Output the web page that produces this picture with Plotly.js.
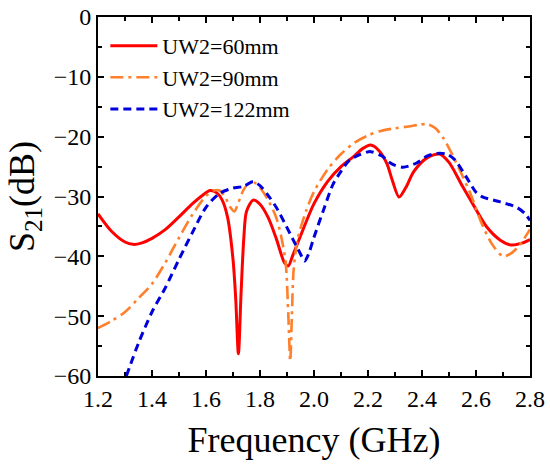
<!DOCTYPE html>
<html>
<head>
<meta charset="utf-8">
<script src="https://cdn.plot.ly/plotly-3.0.1.min.js"></script>
<style>html,body{margin:0;padding:0;background:#fff;}#chart{width:550px;height:467px;}</style>
</head>
<body>
<div id="chart"></div>
<script>
// UW2 = 60 mm (red, solid)
var freq60 = [1.20,1.25,1.30,1.33,1.36,1.40,1.45,1.50,1.55,1.59,1.615,1.64,1.66,1.68,1.70,1.71,1.72,1.73,1.74,1.75,1.775,1.80,1.83,1.86,1.89,1.905,1.92,1.95,2.00,2.05,2.10,2.15,2.18,2.21,2.24,2.27,2.29,2.315,2.34,2.37,2.42,2.465,2.50,2.55,2.59,2.64,2.69,2.73,2.77,2.80];
var s21_60 = [-32.9,-35.8,-37.6,-38.0,-37.8,-37.0,-35.5,-33.4,-31.2,-29.7,-29.0,-29.4,-30.6,-33.5,-40.5,-47.0,-56.3,-46.0,-37.0,-32.5,-30.6,-31.3,-33.5,-37.0,-41.0,-41.6,-40.0,-36.6,-31.2,-27.5,-25.0,-23.2,-22.0,-21.4,-22.3,-24.5,-27.3,-30.1,-28.5,-25.8,-23.5,-22.9,-24.3,-28.3,-31.4,-35.1,-37.3,-38.1,-37.8,-37.2];

// UW2 = 90 mm (orange, dash-dot)
var freq90 = [1.20,1.25,1.30,1.35,1.40,1.45,1.50,1.55,1.60,1.63,1.65,1.67,1.69,1.705,1.72,1.74,1.76,1.78,1.80,1.83,1.86,1.88,1.895,1.905,1.912,1.918,1.925,1.94,1.97,2.00,2.05,2.10,2.15,2.20,2.25,2.30,2.35,2.39,2.42,2.45,2.48,2.51,2.54,2.58,2.62,2.66,2.70,2.73,2.76,2.80];
var s21_90 = [-52.0,-50.8,-49.3,-47.0,-44.6,-41.0,-36.9,-33.0,-29.9,-29.0,-29.0,-30.0,-31.8,-32.5,-31.0,-28.8,-27.8,-27.7,-28.5,-30.6,-33.5,-37.0,-41.0,-50.0,-57.5,-50.0,-42.0,-37.0,-32.5,-29.2,-25.5,-22.9,-21.0,-19.8,-19.0,-18.6,-18.3,-18.0,-17.9,-18.6,-20.3,-22.8,-25.6,-29.6,-34.4,-38.0,-40.0,-39.5,-38.2,-35.5];

// UW2 = 122 mm (blue, dashed)
var freq122 = [1.305,1.35,1.40,1.45,1.50,1.55,1.60,1.65,1.70,1.74,1.775,1.80,1.83,1.86,1.89,1.92,1.95,1.965,1.98,2.00,2.035,2.07,2.10,2.13,2.17,2.21,2.25,2.29,2.33,2.38,2.42,2.455,2.49,2.52,2.565,2.60,2.626,2.69,2.75,2.78,2.80];
var s21_122 = [-60.0,-54.5,-49.3,-45.2,-40.5,-36.0,-31.8,-29.5,-28.6,-28.3,-27.5,-28.2,-29.8,-31.8,-34.3,-37.0,-39.6,-40.8,-39.6,-36.8,-32.3,-28.0,-25.8,-24.0,-23.0,-22.5,-23.2,-24.6,-25.1,-24.4,-23.2,-22.8,-22.9,-23.8,-26.8,-29.3,-30.1,-30.9,-31.8,-32.8,-34.0];

var seriesNames = ['UW2=60mm','UW2=90mm','UW2=122mm'];
var xTicks = [1.2,1.4,1.6,1.8,2.0,2.2,2.4,2.6,2.8];
var xTickText = ['1.2','1.4','1.6','1.8','2.0','2.2','2.4','2.6','2.8'];
var yTicks = [0,-10,-20,-30,-40,-50,-60];
var yTickText = ['0','\u221210','\u221220','\u221230','\u221240','\u221250','\u221260'];

var serif = '"Liberation Serif", "Times New Roman", serif';

var traces = [
  {x: freq60, y: s21_60, name: seriesNames[0], mode: 'lines',
   line: {color: '#FF0000', width: 3, shape: 'spline', smoothing: 0.8}},
  {x: freq90, y: s21_90, name: seriesNames[1], mode: 'lines',
   line: {color: '#FF7F2A', width: 2.6, dash: '13px,5px,3px,5px', shape: 'spline', smoothing: 0.8}},
  {x: freq122, y: s21_122, name: seriesNames[2], mode: 'lines',
   line: {color: '#0000DD', width: 3, dash: '8px,5px', shape: 'spline', smoothing: 0.8}}
];

var axisCommon = {
  showline: true, linecolor: '#000', linewidth: 2, mirror: 'allticks',
  ticks: 'inside', ticklen: 6, tickwidth: 2, tickcolor: '#000',
  showgrid: false, zeroline: false,
  tickfont: {family: serif, size: 24, color: '#000'}
};

var layout = {
  width: 550, height: 467,
  margin: {l: 98, r: 20, t: 17, b: 91},
  paper_bgcolor: '#fff', plot_bgcolor: '#fff',
  showlegend: true,
  legend: {x: 0.017, y: 0.978, xanchor: 'left', yanchor: 'top',
           bgcolor: 'rgba(0,0,0,0)', borderwidth: 0,
           font: {family: serif, size: 22, color: '#000'},
           itemwidth: 47, tracegroupgap: 0},
  xaxis: Object.assign({}, axisCommon, {
    range: [1.2, 2.8], tickmode: 'array', tickvals: xTicks, ticktext: xTickText,
    minor: {dtick: 0.1, ticks: 'inside', ticklen: 4, tickwidth: 2, tickcolor: '#000', showgrid: false},
    title: {text: 'Frequency (GHz)', font: {family: serif, size: 36, color: '#000'}, standoff: 16}
  }),
  yaxis: Object.assign({}, axisCommon, {
    range: [-60, 0], tickmode: 'array', tickvals: yTicks, ticktext: yTickText,
    minor: {dtick: 5, ticks: 'inside', ticklen: 4, tickwidth: 2, tickcolor: '#000', showgrid: false},
    title: {text: 'S<sub>21</sub>(dB)', font: {family: serif, size: 36, color: '#000'}, standoff: 8}
  })
};

Plotly.newPlot('chart', traces, layout, {displayModeBar: false, staticPlot: true});
</script>
</body>
</html>
